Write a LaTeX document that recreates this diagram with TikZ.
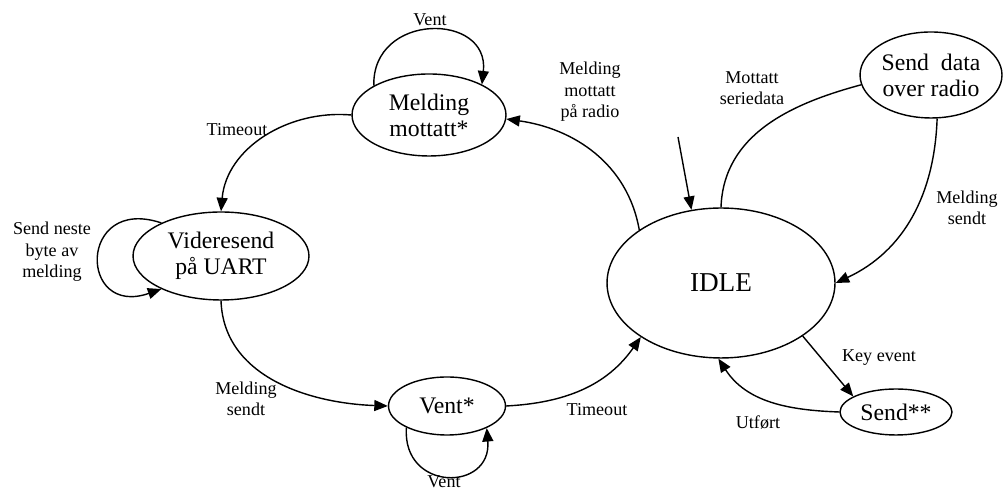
\documentclass[tikz,border=0pt]{standalone}
\usepackage{fontspec}
\setmainfont{Liberation Serif}
\usetikzlibrary{arrows.meta,shapes.geometric}
\begin{document}
\begin{tikzpicture}[x=0.02cm,y=0.02cm,
  line width=0.8pt,
  state/.style={draw,ellipse,inner sep=0pt,align=center,
    font=\fontsize{13.5}{14.8}\selectfont},
  lbl/.style={align=center,inner sep=0pt,font=\fontsize{10.3}{12.3}\selectfont},
  arr/.style={-{Triangle[length=0.27cm,width=0.22cm]}}]
\useasboundingbox (0,0) rectangle (1003,492);

% states
\node[state,minimum width=3.08cm,minimum height=1.64cm] (mm) at (429,377) {Melding\\mottatt*};
\node[state,minimum width=3.52cm,minimum height=1.76cm] (vu) at (221,236) {Videresend\\på UART};
\node[state,minimum width=2.34cm,minimum height=1.16cm] (vent) at (447,86) {Vent*};
\node[state,minimum width=4.56cm,minimum height=3.0cm,font=\fontsize{15.5}{17}\selectfont] (idle) at (721,209) {IDLE};
\node[state,minimum width=2.84cm,minimum height=1.72cm] (sdr) at (931,417) {Send\ \ data\\over radio};
\node[state,minimum width=2.24cm,minimum height=0.92cm] (send) at (896,80) {Send**};
\coordinate (init) at (678,355);

% transition labels
\node[lbl] (lventtop) at (430,472) {Vent};
\node[lbl] (lradio) at (590,400) {Melding\\mottatt\\på radio};
\node[lbl] (ltimeouttop) at (237,362) {Timeout};
\node[lbl] (lneste) at (52,240) {Send neste\\byte av\\melding};
\node[lbl] (lsendtleft) at (246,93) {Melding\\sendt};
\node[lbl] (lventbot) at (444,10) {Vent};
\node[lbl] (ltimeoutbot) at (597,82) {Timeout};
\node[lbl] (lserie) at (752,404) {Mottatt\\seriedata};
\node[lbl] (lsendtright) at (967,284) {Melding\\sendt};
\node[lbl] (lkey) at (879,134) {Key event};
\node[lbl] (lutfort) at (758,69) {Utført};

% transitions
\draw[arr] (mm.152) .. controls (372,480) and (490,480) .. (mm.30);
\draw[arr] (idle.147) to[out=100,in=-8] (mm.-3);
\draw[arr] (mm.180) to[out=175,in=85] (vu.90);
\draw[arr] (vu.151) .. controls (78,297) and (78,174) .. (vu.209);
\draw[arr] (vu.270) to[out=-88,in=178] (vent.180);
\draw[arr] (vent.208) .. controls (402,0) and (492,0) .. (vent.-29);
\draw[arr] (vent.0) to[out=3,in=235] (idle.214);
\draw[arr] (init) -- (idle.112);
\draw (idle.90) to[out=88,in=195] (sdr.188);
\draw[arr] (sdr.-82) to[out=-92,in=25] (idle.0);
\draw[arr] (idle.-33) -- (send.160);
\draw[arr] (send.180) to[out=178,in=-57] (idle.268);
\end{tikzpicture}
\end{document}
